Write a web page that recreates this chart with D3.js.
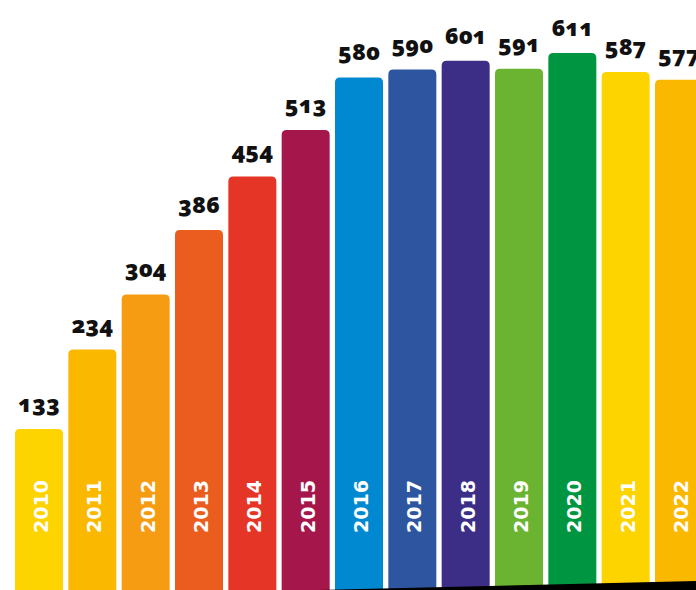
<!DOCTYPE html>
<html><head><meta charset="utf-8">
<script src="https://cdn.jsdelivr.net/npm/d3@7/dist/d3.min.js"></script>
<style>
html,body{margin:0;padding:0;background:#fff;}
svg{display:block;}
.val{font-family:"Open Sans","Noto Sans",sans-serif;font-weight:800;font-size:23px;fill:#111;font-variant-numeric:oldstyle-nums;font-feature-settings:"onum" 1;}
.yr{font-family:"DejaVu Sans",sans-serif;font-weight:700;font-size:19px;fill:#fff;}
</style></head>
<body>
<script>
const years = ["2010","2011","2012","2013","2014","2015","2016","2017","2018","2019","2020","2021","2022"];
const values = [133,234,304,386,454,513,580,590,601,591,611,587,577];
const colors = ["#FDD300","#FBB800","#F59C13","#EB5D1F","#E53527","#A5174A","#0089D0","#2E55A0","#3C2E86","#6AB432","#009540","#FDD300","#FBB800"];

const W = 696, H = 590;
const svg = d3.select("body").append("svg").attr("width", W).attr("height", H);

const x = d3.scaleBand().domain(years).range([15, 703]).paddingInner(0.1).paddingOuter(0);
const y = d3.scaleLinear().domain([0, 611]).range([533.6, 53]);

const r = 5;
function barPath(x0, w, top, bottom) {
  return `M${x0},${bottom}V${top + r}Q${x0},${top} ${x0 + r},${top}H${x0 + w - r}Q${x0 + w},${top} ${x0 + w},${top + r}V${bottom}Z`;
}

const data = years.map((yr, i) => ({yr, v: values[i], c: colors[i]}));

svg.selectAll("path.bar").data(data).join("path")
  .attr("class", "bar")
  .attr("fill", d => d.c)
  .attr("d", d => barPath(x(d.yr), x.bandwidth(), y(d.v), H));

svg.selectAll("text.val").data(data).join("text")
  .attr("class", "val")
  .attr("text-anchor", "middle")
  .attr("x", d => x(d.yr) + x.bandwidth() / 2)
  .attr("y", d => y(d.v) - 17)
  .text(d => d.v);

svg.selectAll("text.yr").data(data).join("text")
  .attr("class", "yr")
  .attr("transform", d => `translate(${x(d.yr) + x.bandwidth() / 2 + 9},533) rotate(-90)`)
  .text(d => d.yr);

// black decorative wedge at bottom
svg.append("path")
  .attr("fill", "#000")
  .attr("d", `M318,${H}L${W},581L${W},${H}Z`);
</script>
</body></html>
